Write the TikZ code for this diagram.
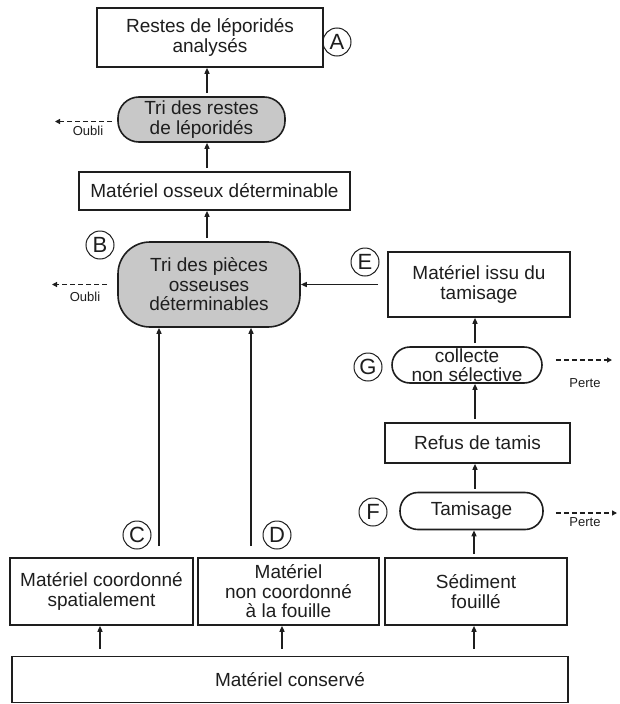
\documentclass[tikz,border=0pt]{standalone}
\usepackage{fontspec}
\setmainfont{Liberation Sans}
\usetikzlibrary{arrows.meta}
\definecolor{fillgray}{RGB}{200,200,200}
\definecolor{ink}{RGB}{30,30,30}
\begin{document}
\begin{tikzpicture}[x=1pt,y=-1pt,
  box/.style={draw=ink,line width=1.6pt,inner sep=0pt,align=center,text=ink,
    font=\fontsize{19}{19.5}\selectfont},
  proc/.style={box,fill=fillgray},
  pill/.style={box},
  letter/.style={draw=ink,circle,line width=1pt,minimum size=28pt,inner sep=0pt,
    text=ink,font=\fontsize{22}{22}\selectfont},
  arr/.style={draw=ink,line width=1.4pt,-{Triangle[length=6pt,width=5pt]}},
  dasharr/.style={draw=ink,line width=1.2pt,dash pattern=on 5pt off 3pt,-{Triangle[length=5pt,width=5pt]}},
  small/.style={text=ink,inner sep=0pt,font=\fontsize{13}{13}\selectfont}
]
\useasboundingbox (0,0) rectangle (619,704);
\fill[white] (0,0) rectangle (619,704);

% main boxes
\node[box,minimum width=226pt,minimum height=59pt] (A) at (210,37.5) {Restes de léporidés\\analysés};
\node[proc,rounded corners=21pt,minimum width=167pt,minimum height=45pt] (tri1) at (201.5,119.5) {Tri des restes\\de léporidés};
\node[box,minimum width=271pt,minimum height=38pt] (osseux) at (214.5,191) {Matériel osseux déterminable};
\node[proc,rounded corners=32pt,minimum width=182pt,minimum height=85pt] (tri2) at (209,284.5) {Tri des pièces\\osseuses\\déterminables};
\node[box,minimum width=182pt,minimum height=65pt] (E) at (479,284.5) {Matériel issu du\\tamisage};
\node[pill,rounded corners=18pt,minimum width=150pt,minimum height=36pt] (col) at (467,365) {collecte\\non sélective};
\node[box,minimum width=185pt,minimum height=40pt] (refus) at (477.5,443) {Refus de tamis};
\node[pill,rounded corners=18pt,minimum width=143pt,minimum height=37pt] (tam) at (471.5,511) {Tamisage};
\node[box,minimum width=183pt,minimum height=67pt] (C) at (101.5,591.5) {Matériel coordonné\\spatialement};
\node[box,minimum width=181pt,minimum height=67pt] (D) at (288.5,591.5) {Matériel\\non coordonné\\à la fouille};
\node[box,minimum width=182pt,minimum height=67pt] (sed) at (476,591.5) {Sédiment\\fouillé};
\node[box,minimum width=556pt,minimum height=46pt] (cons) at (290,679.5) {Matériel conservé};

% letters
\node[letter] (lA) at (337,42) {A};
\node[letter] (lB) at (100,245) {B};
\node[letter] (lC) at (137,535) {C};
\node[letter] (lD) at (277,535) {D};
\node[letter] (lE) at (365,262) {E};
\node[letter] (lF) at (373,512) {F};
\node[letter] (lG) at (368,367) {G};

% helper x positions
\coordinate (xm) at (207,0);
\coordinate (xr) at (475,0);
\coordinate (x1) at (100,0);
\coordinate (x2) at (282,0);
\coordinate (x3) at (474,0);

% vertical arrows, main column
\draw[arr,shorten <=3pt] (tri1.north -| xm) -- (A.south -| xm);
\draw[arr,shorten <=3pt] (osseux.north -| xm) -- (tri1.south -| xm);
\draw[arr,shorten <=3pt] (tri2.north -| xm) -- (osseux.south -| xm);

% right column
\draw[arr,shorten <=9pt] (E.west) -- (tri2.east);
\draw[arr,shorten <=3pt] (col.north -| xr) -- (E.south -| xr);
\draw[arr,shorten <=3pt] (refus.north -| xr) -- (col.south -| xr);
\draw[arr,shorten <=3pt] (tam.north -| xr) -- (refus.south -| xr);
\draw[arr,shorten <=3pt] (sed.north -| x3) -- (tam.south -| x3);

% from conserved material
\draw[arr,shorten <=7pt] (cons.north -| x1) -- (C.south -| x1);
\draw[arr,shorten <=7pt] (cons.north -| x2) -- (D.south -| x2);
\draw[arr,shorten <=7pt] (cons.north -| x3) -- (sed.south -| x3);

% long arrows C and D
\coordinate (cC) at (159,546);
\coordinate (cD) at (251,546);
\draw[arr] (cC) -- (cC |- tri2.south);
\draw[arr] (cD) -- (cD |- tri2.south);

% losses
\coordinate (o1) at (55,0);
\coordinate (o2) at (52,0);
\coordinate (p1) at (612,0);
\coordinate (p2) at (617,0);
\draw[dasharr,shorten <=5pt] ([yshift=-2pt]tri1.west) -- ([yshift=-2pt]tri1.west -| o1);
\draw[dasharr,shorten <=10pt] (tri2.west) -- (tri2.west -| o2);
\draw[dasharr,shorten <=13pt] ([yshift=5pt]col.east) -- ([yshift=5pt]col.east -| p1);
\draw[dasharr,shorten <=12pt] ([yshift=-2pt]tam.east) -- ([yshift=-2pt]tam.east -| p2);
\node[small] (ob1) at (88,131) {Oubli};
\node[small] (ob2) at (85,297) {Oubli};
\node[small] (pe1) at (585,383) {Perte};
\node[small] (pe2) at (585,522) {Perte};
\end{tikzpicture}
\end{document}
